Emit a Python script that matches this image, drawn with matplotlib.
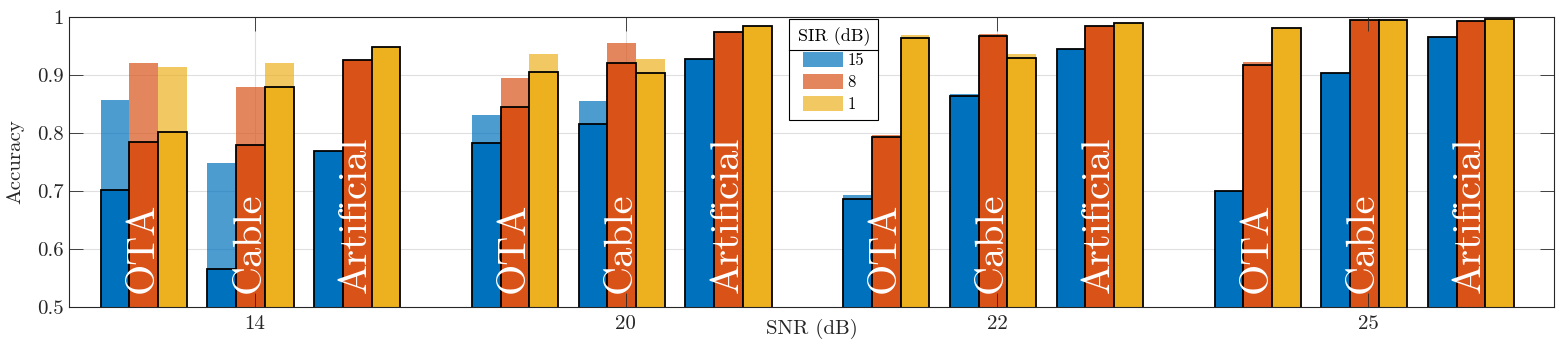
import numpy as np
import matplotlib
matplotlib.use('Agg')
import matplotlib.pyplot as plt
from matplotlib.lines import Line2D

plt.rcParams['font.family'] = ['cmr10', 'DejaVu Serif']
plt.rcParams['axes.formatter.use_mathtext'] = True

################################################################################
snr_labels = ['14', '20', '22', '25']
channels = ['OTA', 'Cable', 'Artificial']
sir_labels = ['15', '8', '1']

# rows: (SNR, channel) in order 14-OTA, 14-Cable, 14-Artificial, 20-OTA, ...
# cols: SIR 15, 8, 1
acc_solid = [
    [0.702, 0.785, 0.802],
    [0.566, 0.780, 0.879],
    [0.769, 0.926, 0.948],
    [0.783, 0.844, 0.906],
    [0.816, 0.921, 0.904],
    [0.928, 0.974, 0.985],
    [0.687, 0.793, 0.964],
    [0.863, 0.968, 0.930],
    [0.945, 0.984, 0.990],
    [0.700, 0.918, 0.981],
    [0.904, 0.995, 0.995],
    [0.966, 0.993, 0.997],
]

acc_faded = [
    [0.857, 0.921, 0.914],
    [0.748, 0.879, 0.921],
    [0.769, 0.926, 0.948],
    [0.831, 0.895, 0.936],
    [0.855, 0.955, 0.928],
    [0.928, 0.974, 0.985],
    [0.693, 0.796, 0.969],
    [0.867, 0.971, 0.936],
    [0.945, 0.984, 0.990],
    [0.700, 0.922, 0.981],
    [0.904, 0.995, 0.995],
    [0.966, 0.993, 0.997],
]

################################################################################
colors = ['#0072BD', '#D95319', '#EDB120']
gray = '#262626'

acc_solid = np.array(acc_solid)
acc_faded = np.array(acc_faded)

width = 0.0773
chan_offs = [-0.2985, -0.011, 0.2765]

centers = []
for i in range(len(acc_solid)):
    g = i // 3
    c = i % 3
    centers.append(g + 1 + chan_offs[c])
centers = np.array(centers)

fig = plt.figure(figsize=(15.61, 3.45), dpi=100)
ax = fig.add_axes([69/1561, 38/345, 1485/1561, 290/345])

for y in [0.6, 0.7, 0.8, 0.9]:
    ax.axhline(y, color='#dfdfdf', lw=0.8, zorder=0.5)
for x in range(1, 5):
    ax.axvline(x, color='#dfdfdf', lw=0.8, zorder=0.5)

handles = []
for k in range(3):
    xs = centers + (k - 1)*width
    h = ax.bar(xs, acc_faded[:, k], width, color=colors[k], alpha=0.7,
               edgecolor='none', zorder=1, label=sir_labels[k])
    handles.append(h)
    ax.bar(xs, acc_solid[:, k], width, color=colors[k], edgecolor='black',
           linewidth=1.3, zorder=2)

for i in range(len(acc_solid)):
    ax.text(centers[i] - 0.003, 0.524, channels[i % 3], rotation=90,
            color='white', fontsize=29, ha='center', va='bottom', zorder=3)

ax.set_xlim(0.5, 4.5)
ax.set_ylim(0.5, 1.0)
ax.set_xticks([1, 2, 3, 4])
ax.set_xticklabels(snr_labels)
ax.set_yticks([0.5, 0.6, 0.7, 0.8, 0.9, 1.0])
ax.set_yticklabels(['0.5', '0.6', '0.7', '0.8', '0.9', '1'])
ax.set_axisbelow(False)
ax.tick_params(direction='in', length=10, width=0.6, top=True, right=True,
               colors=gray, labelsize=15)
ax.tick_params(axis='x', pad=6)
ax.tick_params(axis='y', pad=4)
for sp in ax.spines.values():
    sp.set_color(gray)
    sp.set_linewidth(0.8)

ax.set_xlabel("SNR (dB)", fontsize=15, color=gray)
ax.xaxis.set_label_coords(0.5, -0.04)
ax.set_ylabel("Accuracy", fontsize=15, color=gray)
ax.yaxis.set_label_coords(-0.03, 0.5)

leg = ax.legend(handles=handles, title="SIR (dB)", loc='upper left',
                bbox_to_anchor=(0.485, 0.993), borderaxespad=0,
                fontsize=12, title_fontsize=13, fancybox=False,
                edgecolor='black', framealpha=1, handlelength=2.4,
                handleheight=1.0, handletextpad=0.25, labelspacing=0.35,
                borderpad=0.5)
leg.get_frame().set_linewidth(0.8)

fig.canvas.draw()
fb = leg.get_frame().get_window_extent()
tb = leg.get_title().get_window_extent()
inv = fig.transFigure.inverted()
y_sep = tb.y0 - 4
(x0, ys), (x1, _) = inv.transform([(fb.x0, y_sep), (fb.x1, y_sep)])
fig.add_artist(Line2D([x0, x1], [ys, ys], color='black', lw=0.8, zorder=10))

plt.savefig('out.png', dpi=100)
